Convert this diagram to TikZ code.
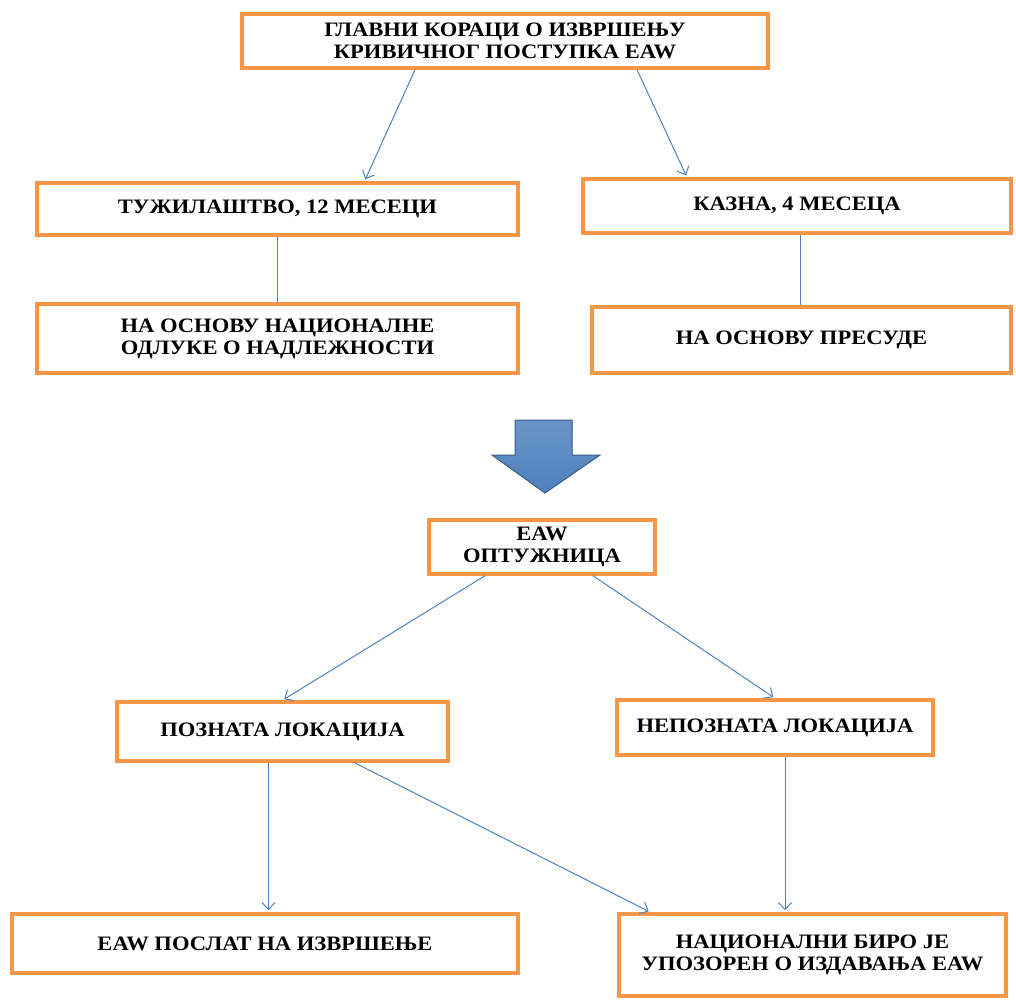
\documentclass[tikz,border=0pt]{standalone}
\usepackage{fontspec}
\setmainfont{Liberation Serif}[FakeStretch=1.1]
\usepackage{xcolor}
\usepackage{tikz}
\usetikzlibrary{positioning, arrows.meta, calc}
\definecolor{boxorange}{RGB}{247,150,70}
\definecolor{linkblue}{RGB}{79,129,189}
\definecolor{arrowedge}{RGB}{56,93,138}
\tikzset{
    box/.style={rectangle, draw=boxorange, line width=3.5pt, fill=white, align=center, inner sep=0pt,
        font=\fontsize{20.5}{22}\selectfont\bfseries},
    link/.style={linkblue, line width=1pt},
    arrow/.style={link, -{Straight Barb[length=7pt, width=13pt]}, shorten >=2pt}
}

\begin{document}
\begin{tikzpicture}[x=1pt, y=-1pt]
        \useasboundingbox (0,0) rectangle (1016,1000);

        % Upper part: the two procedures
        \node[box, minimum width=526pt, minimum height=54pt] (title) at (505,41) {ГЛАВНИ КОРАЦИ О ИЗВРШЕЊУ\\КРИВИЧНОГ ПОСТУПКА EAW};
        \node[box, minimum width=481pt, minimum height=52pt] (tuz) at (277.5,209) {ТУЖИЛАШТВО, 12 МЕСЕЦИ};
        \node[box, minimum width=428pt, minimum height=54pt] (kazna) at (797,206) {КАЗНА, 4 МЕСЕЦА};
        \node[box, minimum width=481pt, minimum height=69pt] (odluka) at (277.5,338.5) {НА ОСНОВУ НАЦИОНАЛНЕ\\ОДЛУКЕ О НАДЛЕЖНОСТИ};
        \node[box, minimum width=419pt, minimum height=66pt] (presuda) at (801.5,340) {НА ОСНОВУ ПРЕСУДЕ};

        \draw[arrow] ([xshift=-90pt]title.south) -- ([xshift=87pt]tuz.north);
        \draw[arrow] ([xshift=132pt]title.south) -- ([xshift=-110pt]kazna.north);
        \draw[link] (tuz.south) -- (odluka.north);
        \draw[link] ([xshift=3pt]kazna.south) -- ([xshift=3pt]kazna.south |- presuda.north);

        % Big block arrow
        \fill[top color=linkblue!85!white, bottom color=linkblue, draw=arrowedge, line width=1pt]
            (515,420) -- (572,420) -- (572,455) -- (600,455) -- (545,493) -- (492,455) -- (515,455) -- cycle;

        % Lower part: the warrant
        \node[box, minimum width=226pt, minimum height=54pt] (eaw) at (542,547) {EAW\\ОПТУЖНИЦА};
        \node[box, minimum width=331pt, minimum height=59pt] (poznata) at (282.5,731.5) {ПОЗНАТА ЛОКАЦИЈА};
        \node[box, minimum width=316pt, minimum height=55pt] (nepoznata) at (775,727.5) {НЕПОЗНАТА ЛОКАЦИЈА};
        \node[box, minimum width=506pt, minimum height=59pt] (poslat) at (265,943.5) {EAW ПОСЛАТ НА ИЗВРШЕЊЕ};
        \node[box, minimum width=387pt, minimum height=82pt] (biro) at (812.5,955) {НАЦИОНАЛНИ БИРО ЈЕ\\УПОЗОРЕН О ИЗДАВАЊА EAW};

        \draw[arrow] ([xshift=-57pt]eaw.south) -- (poznata.north);
        \draw[arrow] ([xshift=51pt]eaw.south) -- (nepoznata.north);
        \draw[arrow] ([xshift=-14pt]poznata.south) -- ([xshift=-14pt]poznata.south |- poslat.north);
        \draw[arrow] ([xshift=72pt]poznata.south) -- ([xshift=-162pt]biro.north);
        \draw[arrow] ([xshift=10pt]nepoznata.south) -- ([xshift=10pt]nepoznata.south |- biro.north);
    \end{tikzpicture}
\end{document}
